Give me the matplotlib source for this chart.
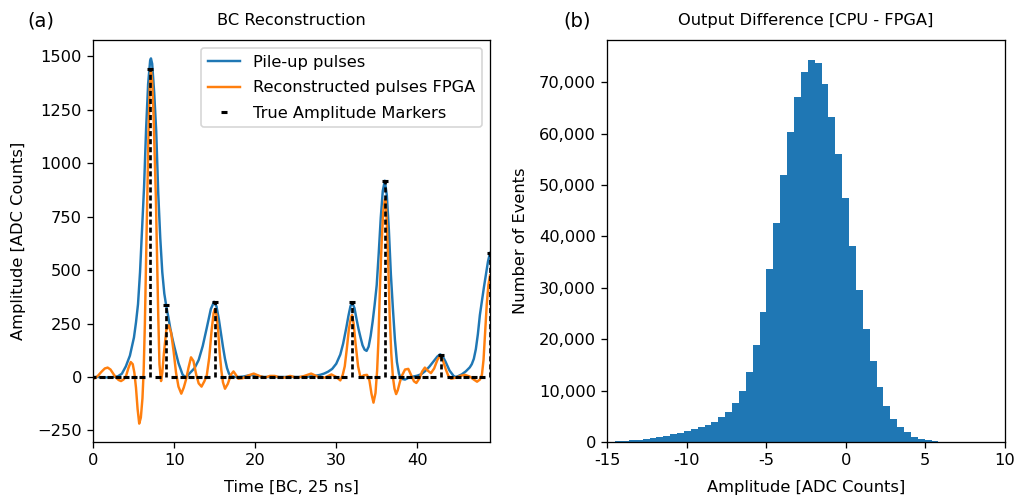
import matplotlib
matplotlib.use("Agg")
import matplotlib.pyplot as plt
from matplotlib.ticker import FuncFormatter
import numpy as np

# ---------------- data: panel (a) ----------------
blue_t = [0, 0.5, 1.0, 1.5, 2.0, 2.5, 3.0, 3.5, 4.0, 4.5, 5.0, 5.25, 5.5, 5.75, 6.0, 6.25,
          6.5, 6.75, 7.0, 7.1, 7.25, 7.5, 7.75, 8.0, 8.25, 8.5, 8.75, 9.0, 9.25, 9.5, 9.75,
          10.0, 10.5, 11.0, 11.3, 11.6, 12.0, 12.5, 13.0, 13.5, 14.0, 14.5, 14.9, 15.2, 15.5,
          15.75, 16.0, 16.25, 16.5, 16.75, 17.0, 17.5, 18.0, 18.5, 19.0, 19.7, 20.5, 21.0,
          22.0, 23.0, 24.0, 25.0, 26.0, 27.0, 27.5, 28.0, 28.5, 29.0, 29.5, 30.0, 30.5,
          30.85, 31.25, 31.5, 31.75, 31.95, 32.25, 32.5, 32.75, 33.0, 33.25, 33.5, 33.75,
          34.0, 34.25, 34.5, 34.75, 35.0, 35.25, 35.5, 35.75, 36.0, 36.25, 36.5, 36.75,
          37.0, 37.25, 37.5, 37.75, 38.0, 38.5, 39.0, 39.5, 40.0, 40.5, 41.0, 41.5, 42.0,
          42.5, 42.85, 43.25, 43.5, 44.0, 44.5, 44.75, 45.0, 45.5, 46.0, 46.5, 46.75, 47.0,
          47.25, 47.5, 47.75, 48.0, 48.25, 48.5, 48.75, 49.0]
blue_v = [0, 0, -1, -2, -2, 0, 3, 15, 50, 100, 185, 255, 340, 490, 690, 890,
          1160, 1370, 1480, 1490, 1465, 1330, 1150, 860, 650, 490, 390, 330, 280, 225, 180,
          140, 65, 12, 0, 6, 22, 42, 80, 145, 230, 318, 352, 330, 268,
          205, 141, 85, 42, 15, 3, 0, 0, 2, 6, 10, 4, 0,
          0, 0, 0, 0, 0, 3, 6, 10, 16, 25, 38, 62, 105,
          156, 232, 285, 330, 350, 322, 272, 225, 185, 148, 128, 122,
          142, 192, 260, 340, 430, 580, 745, 870, 918, 850, 690, 480,
          320, 175, 70, 15, -8, -12, -2, 2, 6, 13, 28, 48, 72,
          96, 106, 90, 72, 30, 5, 0, 3, 12, 26, 45, 60, 85,
          130, 200, 290, 355, 420, 480, 540, 580]

orange_t = [0.0, 0.3, 0.6, 1.0, 1.4, 1.75, 2.1, 2.5, 2.8, 3.1, 3.4, 3.7, 4.0, 4.3, 4.6, 4.85,
            5.05, 5.25, 5.45, 5.65, 5.85, 6.05, 6.2, 6.35, 6.5, 6.65, 6.8, 6.95, 7.1, 7.25,
            7.4, 7.55, 7.7, 7.85, 8.0, 8.15, 8.35, 8.5, 8.7, 9.0, 9.3, 9.6, 9.9, 10.2, 10.5,
            10.85, 11.15, 11.45, 11.75, 12.05, 12.35, 12.7, 13.0, 13.35, 13.7, 14.0, 14.3,
            14.6, 14.85, 15.0, 15.2, 15.4, 15.6, 15.8, 16.0, 16.25, 16.6, 17.0, 17.3, 17.6,
            17.9, 18.5, 19.2, 19.8, 20.5, 21.2, 21.8, 22.4, 23.0, 23.6, 24.3, 25.1, 25.9,
            26.9, 27.8, 28.6, 29.4, 30.0, 30.5, 30.8, 31.05, 31.3, 31.55, 31.8, 31.95, 32.15,
            32.4, 32.7, 33.0, 33.4, 33.8, 34.1, 34.35, 34.6, 34.85, 35.05, 35.2, 35.4, 35.6,
            35.8, 36.0, 36.1, 36.25, 36.4, 36.6, 36.8, 37.0, 37.2, 37.4, 37.6, 37.85, 38.1,
            38.5, 38.9, 39.3, 39.6, 39.9, 40.3, 40.6, 40.95, 41.3, 41.7, 42.1, 42.5, 42.85,
            43.2, 43.5, 43.85, 44.2, 44.8, 45.4, 45.9, 46.5, 47.0, 47.4, 47.75, 48.0, 48.2,
            48.4, 48.6, 48.8, 49.0]
orange_v = [-8, -3, 8, 25, 40, 44, 35, 12, -3, -14, -19, -12, 2, 40, 70, 60,
            20, -50, -150, -218, -190, -100, 30, 250, 560, 850, 1150, 1360, 1435, 1380,
            1250, 1050, 850, 560, 290, 60, -19, 20, 110, 220, 242, 205, 120, 20, -45,
            -78, -50, -10, 45, 92, 75, 10, -30, -45, -20, 8, 90,
            220, 300, 318, 290, 219, 110, 31, -25, -55, -32, 12, 26, 10,
            -8, -5, 8, 16, 5, -3, 5, 5, -2, -3, 5, -3, 3,
            16, 0, -3, 12, 0, -16, 10, 50, 130, 220, 275, 290, 250,
            150, 50, -3, 8, 10, -16, -78, -120, -75, 30, 160, 420, 620,
            770, 830, 830, 720, 560, 290, 110, 0, -55, -80, -62, -25, 5,
            35, 38, 5, -20, -28, -5, 25, 44, 30, 18, 40, 80, 100,
            75, 40, 5, -8, -3, 6, 10, 2, -12, -22, -12, 10, 80,
            210, 340, 430, 475]

true_t = list(range(50))
true_nonzero = {7: 1440, 9: 335, 15: 350, 32: 350, 36: 915, 43: 105, 49: 580}
true_amp = [true_nonzero.get(t, 0) for t in true_t]

# ---------------- data: panel (b) ----------------
hist_first_edge = -15.804
hist_bin_width = 0.4327
hist_counts = [10, 30, 65, 130, 195, 325, 455, 650, 845, 975,
               1170, 1490, 1820, 2080, 2470, 2860, 3250, 3830, 4870, 5845,
               7600, 10000, 13640, 18830, 25330, 33640, 42600, 52020, 60330, 67020,
               71900, 74360, 73700, 69680, 63190, 55980, 47540, 38060, 29620, 22020,
               15780, 10650, 6950, 4480, 2920, 1880, 1040, 580, 325, 130]
hist_edges = hist_first_edge + hist_bin_width * np.arange(len(hist_counts) + 1)

# ---------------- figure ----------------
DPI = 117
plt.rcParams['font.size'] = 10
fig = plt.figure(figsize=(1015 / DPI, 495 / DPI), dpi=DPI)

ax1 = fig.add_axes([93.5 / 1015, 1 - 442 / 495, (490 - 93.5) / 1015, 402 / 495])
ax2 = fig.add_axes([607.3 / 1015, 1 - 442 / 495, (1004.7 - 607.3) / 1015, 402 / 495])

ax1.plot(blue_t, blue_v, color='#1f77b4', lw=1.5, label='Pile-up pulses')
ax1.plot(orange_t, orange_v, color='#ff7f0e', lw=1.5, label='Reconstructed pulses FPGA')
ax1.vlines(true_t, 0, true_amp, colors='k', linestyles=(0, (1.9, 1.1)), lw=1.65)
ax1.plot(true_t, true_amp, 'k_', ms=4.0, mew=1.9, label='True Amplitude Markers')
ax1.set_xlim(0, 49)
ax1.set_ylim(-304, 1576)
ax1.set_xticks([0, 10, 20, 30, 40])
ax1.set_yticks([-250, 0, 250, 500, 750, 1000, 1250, 1500])
ax1.set_xlabel('Time [BC, 25 ns]', labelpad=7)
ax1.set_ylabel('Amplitude [ADC Counts]', labelpad=7)
ax1.set_title('BC Reconstruction', fontsize=10, pad=9)
ax1.legend(loc='upper right', labelspacing=0.65)

ax2.hist(hist_edges[:-1], bins=hist_edges, weights=hist_counts, color='#1f77b4')
ax2.set_xlim(-15, 10)
ax2.set_ylim(0, 78200)
ax2.set_xticks([-15, -10, -5, 0, 5, 10])
ax2.xaxis.set_major_formatter(FuncFormatter(lambda x, p: f"{x:.0f}"))
ax2.yaxis.set_major_formatter(FuncFormatter(lambda y, p: f"{y:,.0f}"))
ax2.set_xlabel('Amplitude [ADC Counts]', labelpad=7)
ax2.set_ylabel('Number of Events', labelpad=7)
ax2.set_title('Output Difference [CPU - FPGA]', fontsize=10, pad=9)

fig.text(0.040, 0.958, '(a)', fontsize=12, ha='center', va='center')
fig.text(0.569, 0.958, '(b)', fontsize=12, ha='center', va='center')

fig.savefig('out.png', dpi=DPI)
